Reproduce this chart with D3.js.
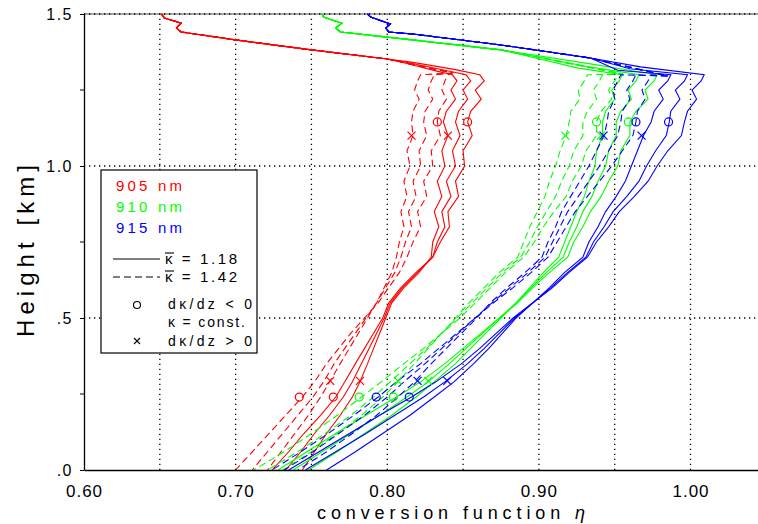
<!DOCTYPE html>
<html>
<head>
<meta charset="utf-8">
<script src="https://cdn.jsdelivr.net/npm/d3@7"></script>
<style>
  body { margin: 0; background: #fff; }
  svg { display: block; }
  text { font-family: "Liberation Sans", Arial, sans-serif; }
</style>
</head>
<body>
<svg id="chart" width="758" height="524"></svg>
<script>
// heights (km) shared by every curve below the ~1.3 km peak
const heights = [1.30, 1.28, 1.25, 1.22, 1.18, 1.145, 1.10, 1.05, 1.00, 0.95, 0.90, 0.85, 0.80, 0.75,
  0.70, 0.65, 0.60, 0.55, 0.50, 0.45, 0.40, 0.35, 0.29, 0.24, 0.18, 0.12, 0.06, 0.00];

// conversion function values at those heights
const redSolid1 = [0.861, 0.864, 0.858, 0.862, 0.855, 0.853, 0.856, 0.850, 0.851, 0.845, 0.847, 0.840, 0.841, 0.835,
  0.830, 0.819, 0.809, 0.801, 0.797, 0.791, 0.785, 0.779, 0.772, 0.766, 0.756, 0.745, 0.735, 0.724];
const redSolid2 = [0.852, 0.855, 0.850, 0.853, 0.847, 0.845, 0.848, 0.843, 0.845, 0.839, 0.842, 0.836, 0.838, 0.833,
  0.830, 0.820, 0.810, 0.802, 0.798, 0.793, 0.788, 0.783, 0.777, 0.771, 0.762, 0.752, 0.743, 0.733];
const redSolid3 = [0.843, 0.846, 0.842, 0.845, 0.839, 0.837, 0.840, 0.836, 0.838, 0.833, 0.836, 0.831, 0.834, 0.830,
  0.829, 0.821, 0.811, 0.803, 0.799, 0.795, 0.791, 0.787, 0.782, 0.777, 0.769, 0.760, 0.752, 0.744];
const redDashed1 = [0.840, 0.838, 0.836, 0.839, 0.834, 0.833, 0.835, 0.829, 0.830, 0.824, 0.826, 0.820, 0.822, 0.817,
  0.813, 0.808, 0.801, 0.794, 0.785, 0.776, 0.768, 0.760, 0.752, 0.744, 0.733, 0.722, 0.711, 0.700];
const redDashed2 = [0.831, 0.829, 0.827, 0.830, 0.825, 0.824, 0.826, 0.821, 0.822, 0.817, 0.819, 0.814, 0.816, 0.812,
  0.809, 0.805, 0.799, 0.793, 0.786, 0.779, 0.772, 0.765, 0.758, 0.751, 0.741, 0.731, 0.721, 0.711];
const redDashed3 = [0.822, 0.820, 0.818, 0.821, 0.817, 0.816, 0.817, 0.813, 0.815, 0.811, 0.813, 0.809, 0.811, 0.808,
  0.806, 0.803, 0.798, 0.793, 0.787, 0.781, 0.775, 0.769, 0.762, 0.756, 0.748, 0.739, 0.730, 0.721];

const greenSolid1 = [0.978, 0.976, 0.970, 0.972, 0.964, 0.960, 0.960, 0.954, 0.952, 0.946, 0.941, 0.934, 0.929, 0.923,
  0.919, 0.907, 0.896, 0.886, 0.874, 0.862, 0.850, 0.838, 0.822, 0.806, 0.786, 0.766, 0.747, 0.728];
const greenSolid2 = [0.966, 0.964, 0.959, 0.961, 0.954, 0.951, 0.951, 0.946, 0.944, 0.939, 0.935, 0.929, 0.925, 0.920,
  0.916, 0.905, 0.895, 0.885, 0.874, 0.863, 0.852, 0.841, 0.827, 0.813, 0.795, 0.776, 0.757, 0.738];
const greenSolid3 = [0.955, 0.953, 0.948, 0.950, 0.944, 0.942, 0.942, 0.938, 0.937, 0.933, 0.930, 0.925, 0.921, 0.917,
  0.913, 0.903, 0.894, 0.885, 0.875, 0.865, 0.855, 0.845, 0.831, 0.819, 0.803, 0.785, 0.767, 0.748];
const greenDashed1 = [0.952, 0.950, 0.946, 0.948, 0.941, 0.938, 0.938, 0.931, 0.928, 0.922, 0.918, 0.910, 0.903, 0.897,
  0.890, 0.878, 0.868, 0.858, 0.848, 0.836, 0.824, 0.811, 0.796, 0.783, 0.767, 0.750, 0.732, 0.712];
const greenDashed2 = [0.942, 0.940, 0.936, 0.938, 0.932, 0.929, 0.929, 0.923, 0.920, 0.915, 0.911, 0.905, 0.899, 0.894,
  0.888, 0.876, 0.866, 0.856, 0.846, 0.836, 0.826, 0.815, 0.802, 0.791, 0.776, 0.759, 0.741, 0.721];
const greenDashed3 = [0.932, 0.930, 0.926, 0.927, 0.921, 0.920, 0.918, 0.914, 0.911, 0.907, 0.904, 0.899, 0.894, 0.890,
  0.886, 0.874, 0.864, 0.854, 0.845, 0.836, 0.827, 0.818, 0.807, 0.797, 0.783, 0.767, 0.750, 0.731];

const blueSolid1 = [1.009, 1.007, 1.001, 1.004, 0.998, 0.996, 0.994, 0.985, 0.978, 0.972, 0.963, 0.953, 0.946, 0.938,
  0.932, 0.920, 0.909, 0.896, 0.883, 0.872, 0.861, 0.849, 0.832, 0.816, 0.795, 0.775, 0.755, 0.735];
const blueSolid2 = [0.998, 0.996, 0.990, 0.993, 0.987, 0.986, 0.984, 0.977, 0.971, 0.966, 0.958, 0.949, 0.943, 0.936,
  0.931, 0.919, 0.908, 0.896, 0.884, 0.874, 0.864, 0.853, 0.838, 0.824, 0.805, 0.786, 0.766, 0.746];
const blueSolid3 = [0.987, 0.985, 0.979, 0.982, 0.976, 0.974, 0.969, 0.965, 0.961, 0.957, 0.951, 0.944, 0.939, 0.933,
  0.929, 0.917, 0.907, 0.896, 0.885, 0.876, 0.867, 0.857, 0.844, 0.831, 0.815, 0.797, 0.779, 0.760];
const blueDashed1 = [0.974, 0.972, 0.968, 0.970, 0.965, 0.964, 0.962, 0.955, 0.948, 0.940, 0.932, 0.924, 0.918, 0.912,
  0.906, 0.895, 0.883, 0.870, 0.858, 0.846, 0.834, 0.822, 0.806, 0.794, 0.778, 0.761, 0.743, 0.724];
const blueDashed2 = [0.964, 0.962, 0.958, 0.960, 0.955, 0.954, 0.952, 0.946, 0.940, 0.933, 0.926, 0.919, 0.914, 0.909,
  0.904, 0.893, 0.881, 0.869, 0.858, 0.847, 0.836, 0.825, 0.811, 0.800, 0.785, 0.768, 0.751, 0.732];
const blueDashed3 = [0.954, 0.952, 0.949, 0.950, 0.946, 0.945, 0.943, 0.938, 0.933, 0.927, 0.921, 0.915, 0.911, 0.906,
  0.902, 0.891, 0.879, 0.868, 0.859, 0.849, 0.839, 0.829, 0.818, 0.807, 0.793, 0.777, 0.760, 0.741];

// upper part (above the peak) as [eta, height]
const redTop = [[0.651, 1.500], [0.653, 1.487], [0.664, 1.470], [0.661, 1.454], [0.664, 1.441], [0.701, 1.414],
  [0.750, 1.382], [0.800, 1.352]];
const greenTop = [[0.757, 1.500], [0.758, 1.490], [0.770, 1.470], [0.766, 1.454], [0.769, 1.441], [0.800, 1.424],
  [0.875, 1.382]];
const blueTop = [[0.787, 1.500], [0.789, 1.490], [0.802, 1.467], [0.799, 1.454], [0.801, 1.441], [0.817, 1.434],
  [0.875, 1.398], [0.934, 1.355]];
const redJoins = [[[0.817, 1.341], [0.845, 1.317]], [[0.815, 1.339], [0.838, 1.315]], [[0.813, 1.337], [0.832, 1.313]]];
const greenJoins = [[[0.934, 1.336]], [[0.932, 1.327]], [[0.926, 1.322]]];
const blueJoins = [[[0.967, 1.326]], [[0.960, 1.320]], [[0.952, 1.315]]];
const redDashJoin = [0.843, 1.306];
const greenDashJoin = [0.955, 1.303];
const blueDashJoin = [0.985, 1.296];

// markers: [eta, height]
const circlesTop = [['red', 0.833], ['red', 0.853], ['lime', 0.938], ['lime', 0.959], ['blue', 0.964], ['blue', 0.9855]];
const crossesTop = [['red', 0.816], ['red', 0.840], ['lime', 0.9175], ['lime', 0.941], ['blue', 0.9426], ['blue', 0.9677]];
const circlesLow = [['red', 0.742], ['red', 0.7644], ['lime', 0.7815], ['blue', 0.7927], ['lime', 0.804], ['blue', 0.8145]];
const crossesLow = [['red', 0.7624], ['red', 0.782], ['lime', 0.807], ['blue', 0.820], ['lime', 0.827], ['blue', 0.8396]];
const circleTopH = 1.145, crossTopH = 1.10, circleLowH = 0.24, crossLowH = 0.293;

const xTicks = [0.6, 0.7, 0.8, 0.9, 1.0];
const xTickLabels = ['0.60', '0.70', '0.80', '0.90', '1.00'];
const yTicks = [0, 0.5, 1.0, 1.5];
const yTickLabels = ['.0', '.5', '1.0', '1.5'];
const yMinor = [0.25, 0.75, 1.25];
const xGrid = [0.65, 0.70, 0.75, 0.80, 0.85, 0.90, 0.95, 1.00];
const yGrid = [0.5, 1.0];

const svg = d3.select('#chart');
const x = d3.scaleLinear().domain([0.6, 1.0445]).range([84, 758]);
const y = d3.scaleLinear().domain([0, 1.5]).range([470, 14]);

// grid
const grid = svg.append('g');
grid.selectAll('line.gx').data(xGrid).join('line')
  .attr('x1', (d) => x(d)).attr('x2', (d) => x(d))
  .attr('y1', y(0)).attr('y2', y(1.5))
  .attr('stroke', '#000').attr('stroke-width', 1.3).attr('stroke-dasharray', '1.3,3.7');
grid.selectAll('line.gy').data(yGrid).join('line')
  .attr('x1', x(0.6)).attr('x2', 758)
  .attr('y1', (d) => y(d)).attr('y2', (d) => y(d))
  .attr('stroke', '#000').attr('stroke-width', 1.3).attr('stroke-dasharray', '1.3,3.7');
grid.append('line')
  .attr('x1', x(0.6)).attr('x2', 758).attr('y1', y(1.5)).attr('y2', y(1.5))
  .attr('stroke', '#888').attr('stroke-width', 1.6);
grid.append('line')
  .attr('x1', x(0.6)).attr('x2', 758).attr('y1', y(1.5)).attr('y2', y(1.5))
  .attr('stroke', '#000').attr('stroke-width', 1.4).attr('stroke-dasharray', '1.3,3.7');

// curves
function buildCurve(top, join, etas) {
  const lower = heights.map((h, i) => [etas[i], h]);
  return top.concat(join, lower);
}

const curves = [
  { color: 'red', dash: true, pts: buildCurve(redTop, [redDashJoin], redDashed1) },
  { color: 'red', dash: true, pts: buildCurve(redTop, [redDashJoin], redDashed2) },
  { color: 'red', dash: true, pts: buildCurve(redTop, [redDashJoin], redDashed3) },
  { color: 'red', dash: false, pts: buildCurve(redTop, redJoins[0], redSolid1) },
  { color: 'red', dash: false, pts: buildCurve(redTop, redJoins[1], redSolid2) },
  { color: 'red', dash: false, pts: buildCurve(redTop, redJoins[2], redSolid3) },
  { color: 'lime', dash: true, pts: buildCurve(greenTop, [greenDashJoin], greenDashed1) },
  { color: 'lime', dash: true, pts: buildCurve(greenTop, [greenDashJoin], greenDashed2) },
  { color: 'lime', dash: true, pts: buildCurve(greenTop, [greenDashJoin], greenDashed3) },
  { color: 'lime', dash: false, pts: buildCurve(greenTop, greenJoins[0], greenSolid1) },
  { color: 'lime', dash: false, pts: buildCurve(greenTop, greenJoins[1], greenSolid2) },
  { color: 'lime', dash: false, pts: buildCurve(greenTop, greenJoins[2], greenSolid3) },
  { color: 'blue', dash: true, pts: buildCurve(blueTop, [blueDashJoin], blueDashed1) },
  { color: 'blue', dash: true, pts: buildCurve(blueTop, [blueDashJoin], blueDashed2) },
  { color: 'blue', dash: true, pts: buildCurve(blueTop, [blueDashJoin], blueDashed3) },
  { color: 'blue', dash: false, pts: buildCurve(blueTop, blueJoins[0], blueSolid1) },
  { color: 'blue', dash: false, pts: buildCurve(blueTop, blueJoins[1], blueSolid2) },
  { color: 'blue', dash: false, pts: buildCurve(blueTop, blueJoins[2], blueSolid3) },
];

const line = d3.line().x((d) => x(d[0])).y((d) => y(d[1]));
svg.append('g').selectAll('path').data(curves).join('path')
  .attr('d', (d) => line(d.pts))
  .attr('fill', 'none')
  .attr('stroke', (d) => d.color)
  .attr('stroke-width', 1.1)
  .attr('stroke-dasharray', (d) => (d.dash ? '7,4' : null));

// markers
const marks = svg.append('g').attr('fill', 'none').attr('stroke-width', 1.2);
function drawCircles(list, h) {
  marks.selectAll(null).data(list).join('circle')
    .attr('cx', (d) => x(d[1])).attr('cy', y(h)).attr('r', 4)
    .attr('stroke', (d) => d[0]);
}
function drawCrosses(list, h) {
  marks.selectAll(null).data(list).join('path')
    .attr('d', (d) => `M${x(d[1]) - 4},${y(h) - 4}L${x(d[1]) + 4},${y(h) + 4}M${x(d[1]) - 4},${y(h) + 4}L${x(d[1]) + 4},${y(h) - 4}`)
    .attr('stroke', (d) => d[0]);
}
drawCircles(circlesTop, circleTopH);
drawCrosses(crossesTop, crossTopH);
drawCircles(circlesLow, circleLowH);
drawCrosses(crossesLow, crossLowH);

// axes
const yAxis = svg.append('g').attr('transform', `translate(${x(0.6)},0)`)
  .call(d3.axisLeft(y).tickValues(yTicks).tickFormat((d, i) => yTickLabels[i]).tickSize(4).tickPadding(7).tickSizeOuter(0));
yAxis.selectAll('text').attr('font-size', 16).attr('letter-spacing', 1.5).attr('font-family', '"Liberation Sans", Arial, sans-serif');
yAxis.selectAll(null).data(yMinor).join('line')
  .attr('x1', -4).attr('x2', 0).attr('y1', (d) => y(d)).attr('y2', (d) => y(d)).attr('stroke', '#000');
yAxis.select('.domain').attr('stroke-width', 1.3);

const xAxis = svg.append('g').attr('transform', `translate(0,${y(0)})`)
  .call(d3.axisBottom(x).tickValues(xTicks).tickFormat((d, i) => xTickLabels[i]).tickSize(0).tickSizeOuter(0));
xAxis.selectAll('text').attr('y', 27).attr('dy', null).attr('font-size', 17).attr('letter-spacing', 1)
  .attr('font-family', '"Liberation Sans", Arial, sans-serif');
xAxis.select('.domain').attr('stroke-width', 1.3);

// axis titles
const xt = svg.append('text').attr('x', 317).attr('y', 519).attr('font-size', 18)
  .attr('textLength', 268).attr('lengthAdjust', 'spacing');
xt.append('tspan').text('conversion function ');
xt.append('tspan').attr('font-style', 'italic').text('η');

svg.append('text').attr('transform', 'translate(34,337) rotate(-90)')
  .attr('font-size', 24).attr('textLength', 172).attr('lengthAdjust', 'spacing')
  .text('Height [km]');

// legend
const lg = svg.append('g');
lg.append('rect').attr('x', 101).attr('y', 170).attr('width', 156).attr('height', 183)
  .attr('fill', '#fff').attr('stroke', '#000').attr('stroke-width', 1.2);
const waveLabels = [['905 nm', 'red', 191], ['910 nm', 'lime', 212], ['915 nm', 'blue', 233]];
lg.selectAll(null).data(waveLabels).join('text')
  .attr('x', 116).attr('y', (d) => d[2]).attr('fill', (d) => d[1])
  .attr('font-size', 15).attr('textLength', 66).attr('lengthAdjust', 'spacing')
  .text((d) => d[0]);
const kappaLabels = [['κ = 1.18', null, 264, 259], ['κ = 1.42', '7,4', 282, 277]];
kappaLabels.forEach(([label, dash, base, ly]) => {
  lg.append('line').attr('x1', 113).attr('x2', 160).attr('y1', ly).attr('y2', ly)
    .attr('stroke', '#000').attr('stroke-width', 1.1).attr('stroke-dasharray', dash);
  lg.append('text').attr('x', 165).attr('y', base).attr('font-size', 15)
    .attr('textLength', 72).attr('lengthAdjust', 'spacing').text(label);
  lg.append('line').attr('x1', 165).attr('x2', 174).attr('y1', base - 11).attr('y2', base - 11)
    .attr('stroke', '#000').attr('stroke-width', 1.1);
});
lg.append('circle').attr('cx', 137).attr('cy', 305).attr('r', 3.5).attr('fill', 'none').attr('stroke', '#000').attr('stroke-width', 1.1);
lg.append('path').attr('d', 'M134,338L140,344M134,344L140,338').attr('stroke', '#000').attr('stroke-width', 1.1);
const gradLabels = [['dκ/dz < 0', 309, 84], ['κ = const.', 327, 77], ['dκ/dz > 0', 346, 84]];
lg.selectAll(null).data(gradLabels).join('text')
  .attr('x', 168).attr('y', (d) => d[1]).attr('font-size', 14)
  .attr('textLength', (d) => d[2]).attr('lengthAdjust', 'spacing')
  .text((d) => d[0]);
</script>
</body>
</html>
